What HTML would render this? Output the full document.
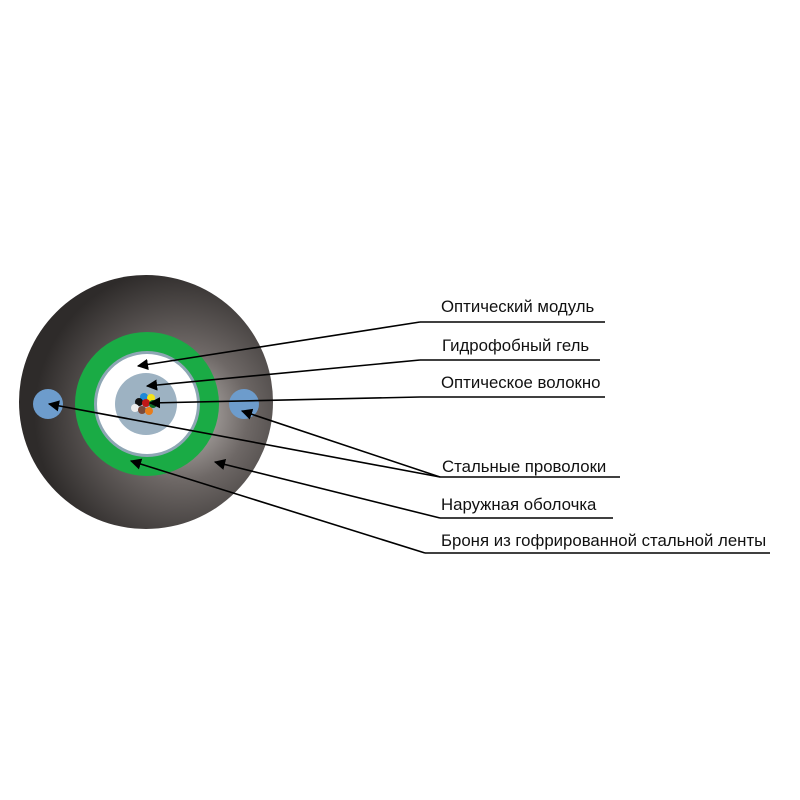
<!DOCTYPE html>
<html><head><meta charset="utf-8"><style>
html,body{margin:0;padding:0;background:#fff;width:800px;height:800px;overflow:hidden}
text{font-family:"Liberation Sans",sans-serif;font-size:16.8px;fill:#111}
</style></head><body>
<svg width="800" height="800" viewBox="0 0 800 800" xmlns="http://www.w3.org/2000/svg">
<defs>
<radialGradient id="g" cx="0.64" cy="0.55" r="0.58">
<stop offset="0" stop-color="#c4bfbc"/>
<stop offset="0.45" stop-color="#6e6866"/>
<stop offset="1" stop-color="#2e2b2a"/>
</radialGradient>
<marker id="a" viewBox="0 0 10 10" refX="9" refY="5" markerWidth="7" markerHeight="7" orient="auto-start-reverse">
<path d="M0,0 L10,5 L0,10 z" fill="#000"/>
</marker>
</defs>
<circle cx="146" cy="402" r="127" fill="url(#g)"/>
<circle cx="147" cy="404" r="72" fill="#1aab45"/>
<circle cx="147" cy="404" r="53" fill="#8ea6b4"/>
<circle cx="147" cy="404" r="50" fill="#fff"/>
<circle cx="146" cy="404" r="31" fill="#9db2c2"/>
<circle cx="48" cy="404" r="15" fill="#6d9ccc"/>
<circle cx="244" cy="404" r="15" fill="#6d9ccc"/>
<circle cx="144" cy="397" r="4" fill="#1e88d8"/>
<circle cx="151" cy="398" r="4" fill="#f4e21a"/>
<circle cx="139" cy="402" r="4" fill="#111"/>
<circle cx="146" cy="403" r="4" fill="#c01818"/>
<circle cx="153" cy="404" r="4" fill="#0f6b25"/>
<circle cx="135" cy="408" r="4" fill="#eee"/>
<circle cx="142" cy="410" r="4" fill="#7a4a3a"/>
<circle cx="149" cy="411" r="4" fill="#e87c1a"/>
<g stroke="#000" stroke-width="1.6" fill="none">
<line x1="420" y1="322" x2="605" y2="322"/>
<line x1="420" y1="360" x2="600" y2="360"/>
<line x1="420" y1="397" x2="605" y2="397"/>
<line x1="440" y1="477" x2="620" y2="477"/>
<line x1="440" y1="518" x2="613" y2="518"/>
<line x1="425" y1="553" x2="770" y2="553"/>
<line x1="420" y1="322" x2="138" y2="366" marker-end="url(#a)"/>
<line x1="420" y1="360" x2="147" y2="386" marker-end="url(#a)"/>
<line x1="420" y1="397" x2="150" y2="403" marker-end="url(#a)"/>
<line x1="440" y1="477" x2="242" y2="411" marker-end="url(#a)"/>
<line x1="440" y1="477" x2="49" y2="404" marker-end="url(#a)"/>
<line x1="440" y1="518" x2="215" y2="462" marker-end="url(#a)"/>
<line x1="425" y1="553" x2="131" y2="461" marker-end="url(#a)"/>
</g>
<text x="441" y="312">Оптический модуль</text>
<text x="442" y="351">Гидрофобный гель</text>
<text x="441" y="388">Оптическое волокно</text>
<text x="442" y="472">Стальные проволоки</text>
<text x="441" y="510">Наружная оболочка</text>
<text x="441" y="546">Броня из гофрированной стальной ленты</text>
</svg>
</body></html>
